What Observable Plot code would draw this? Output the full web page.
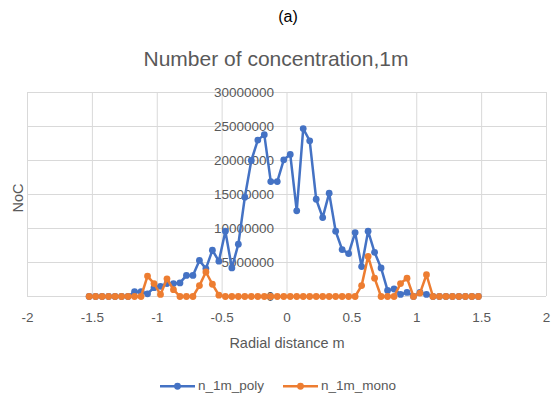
<!DOCTYPE html>
<html><head><meta charset="utf-8">
<script src="https://cdn.jsdelivr.net/npm/d3@7"></script>
<script src="https://cdn.jsdelivr.net/npm/@observablehq/plot@0.6"></script>
<style>
body{margin:0;background:#fff;}
#wrap{position:relative;width:552px;height:401px;overflow:hidden;font-family:"Liberation Sans",Arial,sans-serif;background:#fff;}
#wrap svg.plot{position:absolute;left:0;top:0;}
.lbl{position:absolute;white-space:nowrap;line-height:1;transform:translate(-50%,-50%);}
#legend{position:absolute;top:386px;left:0;width:552px;height:0;}
.leg{position:absolute;display:flex;align-items:center;transform:translateY(-50%);font-size:13.5px;color:#595959;line-height:1;}
</style></head><body><div id="wrap"></div>
<script>
const radialDistance = [-1.525,-1.475,-1.425,-1.375,-1.325,-1.275,-1.225,-1.175,-1.125,-1.075,
  -1.025,-0.975,-0.925,-0.875,-0.825,-0.775,-0.725,-0.675,-0.625,-0.575,
  -0.525,-0.475,-0.425,-0.375,-0.325,-0.275,-0.225,-0.175,-0.125,-0.075,
  -0.025,0.025,0.075,0.125,0.175,0.225,0.275,0.325,0.375,0.425,
  0.475,0.525,0.575,0.625,0.675,0.725,0.775,0.825,0.875,0.925,
  0.975,1.025,1.075,1.125,1.175,1.225,1.275,1.325,1.375,1.425,1.475];
const nPoly = [0,0,0,0,0,0,0,700000,700000,400000,
  1300000,1500000,1900000,1900000,2000000,3100000,3100000,5300000,4100000,6800000,
  5200000,9600000,4200000,7700000,14600000,20000000,23000000,23800000,16900000,16900000,
  20100000,20900000,12600000,24700000,22900000,14300000,11600000,15200000,9600000,6900000,
  6300000,9400000,4400000,9600000,6500000,4200000,900000,1100000,300000,600000,
  0,600000,300000,0,0,0,0,0,0,0,0];
const nMono = [0,0,0,0,0,0,0,0,0,3000000,
  1900000,300000,2600000,1000000,0,0,0,1600000,3600000,1800000,
  200000,0,0,0,0,0,0,0,0,0,
  0,0,0,0,0,0,0,0,0,0,
  0,0,1600000,5900000,2700000,0,0,0,1900000,2700000,
  0,500000,3200000,0,0,0,0,0,0,0,0];
const xTicks = [-2,-1.5,-1,-0.5,0,0.5,1,1.5,2];
const yTicks = [0,5000000,10000000,15000000,20000000,25000000,30000000];
const seriesNames = ["n_1m_poly","n_1m_mono"];
const seriesColors = ["#4472C4","#ED7D31"];
const panelLabel = "(a)";
const chartTitle = "Number of concentration,1m";
const xTitle = "Radial distance m";
const yTitle = "NoC";

const poly = radialDistance.map((x,i)=>({x, v:nPoly[i]}));
const mono = radialDistance.map((x,i)=>({x, v:nMono[i]}));
const yLab = yTicks.map(v=>({x:0, v}));

const font = '"Liberation Sans",Arial,sans-serif';
const chart = Plot.plot({
  width:552, height:401,
  marginLeft:27, marginRight:6, marginTop:92, marginBottom:105,
  x:{domain:[-2,2], axis:null}, y:{domain:[0,30000000], axis:null},
  style:{fontFamily:font, fontSize:"13.5px", color:"#595959", background:"transparent", overflow:"visible"},
  marks:[
    Plot.gridX(xTicks,{stroke:"#D9D9D9", strokeOpacity:1, strokeWidth:1}),
    Plot.gridY(yTicks,{stroke:"#D9D9D9", strokeOpacity:1, strokeWidth:1}),
    Plot.axisX(xTicks,{tickSize:0, tickPadding:16, tickFormat:d=>String(d), label:null, fill:"#595959", fontSize:13.5}),
    Plot.text(yLab,{x:"x", y:"v", text:d=>String(d.v), textAnchor:"end", dx:-13, fill:"#595959", fontSize:13.5}),
    Plot.line(poly,{x:"x", y:"v", stroke:seriesColors[0], strokeWidth:2.5}),
    Plot.dot(poly,{x:"x", y:"v", fill:seriesColors[0], r:3.4}),
    Plot.line(mono,{x:"x", y:"v", stroke:seriesColors[1], strokeWidth:2.5}),
    Plot.dot(mono,{x:"x", y:"v", fill:seriesColors[1], r:3.4})
  ]
});
chart.classList.add("plot");
const wrap = document.getElementById("wrap");
wrap.appendChild(chart);

function addLabel(text, x, y, css){
  const d = document.createElement("div");
  d.className = "lbl"; d.textContent = text;
  d.style.left = x+"px"; d.style.top = y+"px";
  Object.assign(d.style, css||{});
  wrap.appendChild(d);
  return d;
}
addLabel(panelLabel, 288, 17, {fontSize:"16px", color:"#000"});
addLabel(chartTitle, 276, 58, {fontSize:"21px", color:"#595959"});
addLabel(xTitle, 287, 343, {fontSize:"14.5px", color:"#595959"});
addLabel(yTitle, 18, 198, {fontSize:"14.5px", color:"#595959", transform:"translate(-50%,-50%) rotate(-90deg)"});

const legend = document.createElement("div");
legend.id = "legend";
const legX = [160, 283];
seriesNames.forEach((name,i)=>{
  const item = document.createElement("div");
  item.className = "leg";
  item.style.left = legX[i]+"px";
  item.innerHTML = `<svg width="36" height="10" style="margin-right:2px"><line x1="0" y1="5" x2="35" y2="5" stroke="${seriesColors[i]}" stroke-width="2.5"/><circle cx="17.5" cy="5" r="3.4" fill="${seriesColors[i]}"/></svg><span>${name}</span>`;
  legend.appendChild(item);
});
wrap.appendChild(legend);
</script></body></html>
